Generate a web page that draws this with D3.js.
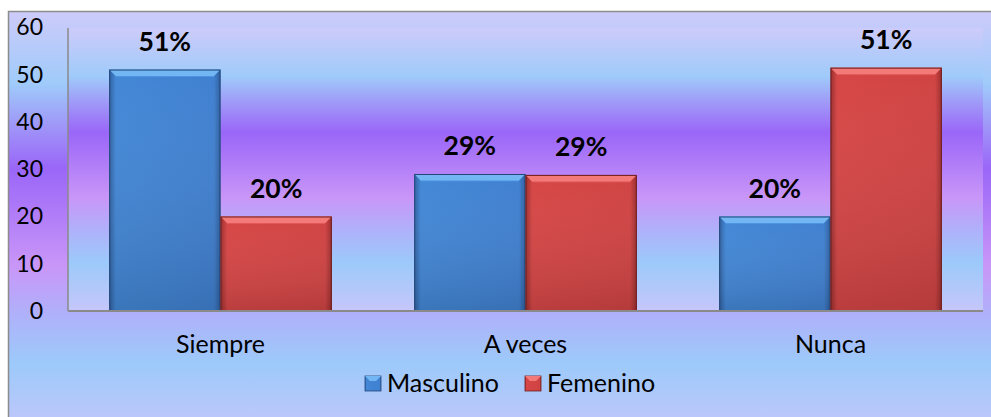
<!DOCTYPE html>
<html><head><meta charset="utf-8">
<script src="https://cdn.jsdelivr.net/npm/d3@7/dist/d3.min.js"></script>
<style>body{margin:0;background:#fff;}svg{display:block;font-family:Lato,"Open Sans",sans-serif;}</style>
</head><body><div id="c"></div>
<script>
const categories = ["Siempre", "A veces", "Nunca"];
const seriesNames = ["Masculino", "Femenino"];
const masculino = [51.1, 29.0, 20.0];
const femenino = [20.0, 28.8, 51.5];
const labelsMasculino = ["51%", "29%", "20%"];
const labelsFemenino = ["20%", "29%", "51%"];
const yTicks = [0, 10, 20, 30, 40, 50, 60];

const W = 991, H = 417;
const svg = d3.select("#c").append("svg").attr("width", W).attr("height", H);
const defs = svg.append("defs");

function bgGrad(id) {
  const g = defs.append("linearGradient").attr("id", id).attr("x1", 0).attr("y1", 0).attr("x2", 0).attr("y2", 1);
  [[0, "#cdcbfa"], [0.17, "#9fcbfa"], [0.27, "#9f96f8"], [0.37, "#9a66f8"], [0.6, "#c996f8"], [0.71, "#b0b0fa"], [0.83, "#9ccafa"], [1, "#c6c6fa"]]
    .forEach(([o, c]) => g.append("stop").attr("offset", o).attr("stop-color", c));
}
bgGrad("bgOuter"); bgGrad("bgPlot");

const colors = {
  Masculino: {main: ["#2f5f9e", "#4387d6", "#4080d0", "#2f5f9e"], top: "#72b6f4", topEdge: "#4e94e0", stroke: "#23477a"},
  Femenino: {main: ["#9a2e2e", "#d64646", "#d04343", "#9a2e2e"], top: "#f47a7a", topEdge: "#e05858", stroke: "#6e1e1e"}
};
Object.entries(colors).forEach(([k, c]) => {
  const g = defs.append("linearGradient").attr("id", "h" + k).attr("x1", 0).attr("x2", 1).attr("y1", 0).attr("y2", 0);
  [[0, c.main[0]], [0.06, c.main[1]], [0.94, c.main[2]], [1, c.main[3]]].forEach(([o, col]) => g.append("stop").attr("offset", o).attr("stop-color", col));
  const v = defs.append("linearGradient").attr("id", "v" + k).attr("x1", 0).attr("x2", 0).attr("y1", 0).attr("y2", 1);
  v.append("stop").attr("offset", 0).attr("stop-color", "#fff").attr("stop-opacity", 0);
  v.append("stop").attr("offset", 1).attr("stop-color", "#000").attr("stop-opacity", 0.13);
});

// outer chart area
svg.append("rect").attr("x", 8.5).attr("y", 11.5).attr("width", 1000).attr("height", 424)
  .attr("fill", "url(#bgOuter)").attr("stroke", "#8c8c8c").attr("stroke-width", 1.5);

const plot = {left: 68, right: 983, top: 28, bottom: 311};
svg.append("rect").attr("x", plot.left).attr("y", plot.top).attr("width", plot.right - plot.left).attr("height", plot.bottom - plot.top)
  .attr("fill", "url(#bgPlot)");

const y = d3.scaleLinear().domain([0, 60]).range([plot.bottom, 27.5]);
const x0 = d3.scaleBand().domain(categories).range([plot.left, plot.right]).paddingInner(0.27).paddingOuter(0.135);
const x1 = d3.scaleBand().domain(seriesNames).range([0, x0.bandwidth()]);

// y axis
const yAxis = svg.append("g").attr("transform", `translate(${plot.left},0)`)
  .call(d3.axisLeft(y).tickValues(yTicks).tickSize(0).tickPadding(25));
yAxis.select(".domain").attr("stroke", "#8a8a8a").attr("stroke-width", 1.5).attr("d", `M0,${plot.top}V${plot.bottom}`);
yAxis.selectAll("text").attr("font-size", 23).attr("fill", "#000").attr("font-family", "Lato, 'Open Sans', sans-serif");

const data = categories.map((c, i) => ({cat: c, vals: [
  {s: "Masculino", v: masculino[i], lab: labelsMasculino[i]},
  {s: "Femenino", v: femenino[i], lab: labelsFemenino[i]}]}));

const groups = svg.append("g").selectAll("g").data(data).join("g")
  .attr("transform", d => `translate(${x0(d.cat)},0)`);

const bars = groups.selectAll("g.bar").data(d => d.vals).join("g").attr("class", "bar");
const bev = 7;
bars.each(function(d) {
  const g = d3.select(this);
  const bx = x1(d.s), bw = x1.bandwidth(), by = y(d.v), bh = plot.bottom - by;
  const c = colors[d.s];
  g.append("rect").attr("x", bx).attr("y", by).attr("width", bw).attr("height", bh).attr("fill", `url(#h${d.s})`);
  g.append("rect").attr("x", bx).attr("y", by).attr("width", bw).attr("height", bh).attr("fill", `url(#v${d.s})`);
  g.append("path").attr("d", `M${bx},${by}H${bx + bw}L${bx + bw - bev},${by + bev}H${bx + bev}Z`).attr("fill", c.top);
  g.append("path").attr("d", `M${bx + bev},${by + bev}H${bx + bw - bev}`).attr("stroke", c.topEdge).attr("stroke-width", 1);
  g.append("rect").attr("x", bx + 0.5).attr("y", by + 0.5).attr("width", bw - 1).attr("height", bh - 1)
    .attr("fill", "none").attr("stroke", c.stroke).attr("stroke-width", 1);
  g.append("text").attr("x", bx + bw / 2).attr("y", by - 19).attr("text-anchor", "middle")
    .attr("font-size", 26.5).attr("font-weight", "bold").attr("fill", "#000").text(d.lab);
});

// x axis
const xAxis = svg.append("g").attr("transform", `translate(0,${plot.bottom})`)
  .call(d3.axisBottom(x0).tickSize(0).tickPadding(24));
xAxis.select(".domain").attr("stroke", "#8a8a8a").attr("stroke-width", 2).attr("d", `M${plot.left},0H${plot.right}`);
xAxis.selectAll("text").attr("font-size", 25).attr("fill", "#000").attr("font-family", "Lato, 'Open Sans', sans-serif");

// legend
const legendX = [365, 525];
const lg = svg.append("g").selectAll("g").data(seriesNames).join("g")
  .attr("transform", (d, i) => `translate(${legendX[i]},376)`);
lg.append("rect").attr("width", 16).attr("height", 15).attr("fill", d => `url(#h${d})`).attr("stroke", d => colors[d].stroke).attr("stroke-width", 0.8);
lg.append("path").attr("d", "M0,0H16L11,5H5Z").attr("fill", d => colors[d].top);
lg.append("text").attr("x", 22).attr("y", 16).attr("font-size", 25).attr("fill", "#000").text(d => d);
</script></body></html>
